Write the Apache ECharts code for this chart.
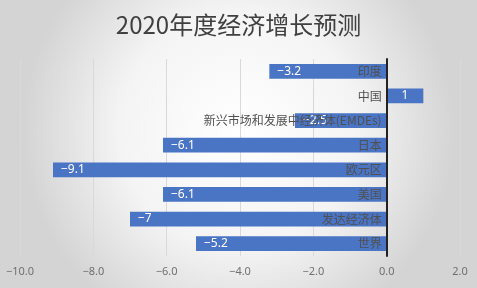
<!DOCTYPE html>
<html><head><meta charset="utf-8">
<script src="https://cdn.jsdelivr.net/npm/echarts@6/dist/echarts.min.js"></script>
<style>html,body{margin:0;padding:0;}#c{width:477px;height:288px;}</style>
</head><body><div id="c"></div>
<script>
var titleText = '2020年度经济增长预测';
var categories = ['印度', '中国', '新兴市场和发展中经济体(EMDEs)', '日本', '欧元区', '美国', '发达经济体', '世界'];
var values = [-3.2, 1, -2.5, -6.1, -9.1, -6.1, -7, -5.2];
var xMin = -10, xMax = 2, xStep = 2;

function fmtNum(v){ return String(v).replace('-', '−'); }

var W = 477, gridLeft = 20, gridRight = 17;
var zeroOffset = (W - gridLeft - gridRight) * (0 - xMin) / (xMax - xMin);

var chart = echarts.init(document.getElementById('c'));
chart.setOption({
  backgroundColor: {
    type: 'radial', x: 0.5, y: 0.45, r: 0.75,
    colorStops: [{offset: 0, color: '#ffffff'}, {offset: 0.55, color: '#f4f4f4'}, {offset: 1, color: '#d4d4d4'}]
  },
  title: {
    text: titleText, left: 'center', top: 8,
    textStyle: {fontSize: 24, fontWeight: 'normal', color: '#404040', fontFamily: 'Noto Sans CJK SC'}
  },
  grid: {left: gridLeft, right: gridRight, top: 59, bottom: 32, containLabel: false, outerBoundsMode: 'none'},
  xAxis: {
    type: 'value', min: xMin, max: xMax, interval: xStep,
    axisLine: {show: false}, axisTick: {show: false},
    splitLine: {lineStyle: {color: '#d9d9d9', width: 1}},
    axisLabel: {color: '#707070', fontSize: 11, margin: 10, fontFamily: 'Noto Sans',
      formatter: function(v){ return v.toFixed(1).replace('-', '−'); }}
  },
  yAxis: {
    type: 'category', data: categories, inverse: true, position: 'left', offset: -zeroOffset, z: 3,
    axisLine: {onZero: false, lineStyle: {color: '#222', width: 2}},
    axisTick: {show: false},
    axisLabel: {color: '#505050', fontSize: 12, margin: 5, fontFamily: 'Noto Sans CJK SC'}
  },
  series: [{
    type: 'bar', barCategoryGap: '40%', z: 2, zlevel: 0,
    itemStyle: {color: '#4a74c4'},
    data: values.map(function(v){
      return {value: v, label: {position: v < 0 ? 'insideLeft' : 'inside', distance: 8}};
    }),
    label: {show: true, color: '#ffffff', fontSize: 12, fontFamily: 'Noto Sans',
      formatter: function(p){ return fmtNum(p.value); }},
    silent: true
  }],
  animation: false
});
</script></body></html>
